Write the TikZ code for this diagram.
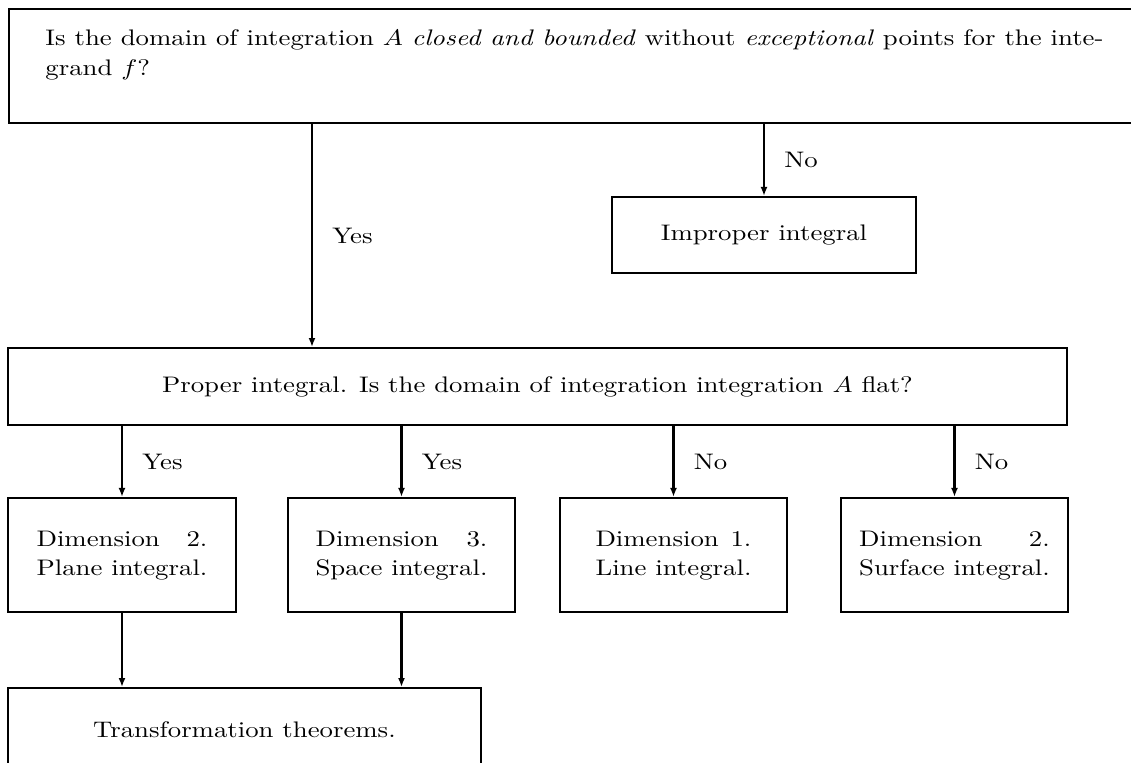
\documentclass[tikz,border=0pt]{standalone}
\usepackage{fontspec}
\setmainfont{lmroman10-regular.otf}[FakeStretch=1.19, ItalicFont=lmroman10-italic.otf, BoldFont=lmroman10-bold.otf]
\usepackage{calc}
\usepackage{graphicx}
\usetikzlibrary{arrows.meta}
\newcommand\stm[1]{\scalebox{1.19}[1]{$#1$}}
\newcommand\dimtext[2]{\begin{tabular}{@{}l@{}}\makebox[\widthof{#2}][s]{#1}\\#2\end{tabular}}
\tikzset{
  txt/.style={font=\fontsize{10}{13.3}\selectfont},
  box/.style={draw, line width=0.9pt, rectangle, inner sep=0pt, txt, align=center},
  arr/.style={line width=0.9pt, -{Latex[length=4pt,width=3.1pt]}},
  lab/.style={txt, anchor=west, inner sep=0pt, xshift=8.6pt},
}
\begin{document}
\begin{tikzpicture}[x=0.4444pt, y=-0.4444pt]
\useasboundingbox (0,0) rectangle (1131,762);
\clip (0,0) rectangle (1131,762);
% top question box
\node[box, anchor=north west, minimum width=533pt, minimum height=50.67pt] (q1) at (8,8) {};
\node[txt, anchor=north west, inner sep=0pt, text width=470.2pt, align=justify] (q1t) at (45,29.4)
  {Is the domain of integration \stm{A} \textit{closed and bounded} without \textit{exceptional} points for the integrand \stm{f}?};
% improper
\node[box, minimum width=134.7pt, minimum height=33.8pt] (imp) at (764,235) {Improper integral};
% proper
\node[box, minimum width=470.6pt, minimum height=34.2pt] (p) at (537.5,386.5)
  {Proper integral. Is the domain of integration integration \stm{A} flat?};
% dimension boxes
\node[box, minimum width=101.3pt, minimum height=50.7pt] (d1) at (122,555) {\dimtext{Dimension 2.}{Plane integral.}};
\node[box, minimum width=101pt, minimum height=50.7pt] (d2) at (401.5,555) {\dimtext{Dimension 3.}{Space integral.}};
\node[box, minimum width=101pt, minimum height=50.7pt] (d3) at (673.5,555) {\dimtext{Dimension 1.}{Line integral.}};
\node[box, minimum width=100.5pt, minimum height=50.7pt] (d4) at (954.5,555) {\dimtext{Dimension 2.}{Surface integral.}};
% transformation
\node[box, minimum width=210.2pt, minimum height=37.3pt] (tt) at (244.5,730) {Transformation theorems.};
% connectors
\coordinate (xyes) at (312,0);
\draw[arr] (q1.south -| xyes) -- node[lab, pos=0.5] {Yes} (p.north -| xyes);
\draw[arr] (imp.north |- q1.south) -- node[lab, pos=0.5] {No} (imp.north);
\draw[arr] (d1.north |- p.south) -- node[lab] {Yes} (d1.north);
\draw[arr] (d2.north |- p.south) -- node[lab] {Yes} (d2.north);
\draw[arr] (d3.north |- p.south) -- node[lab] {No} (d3.north);
\draw[arr] (d4.north |- p.south) -- node[lab] {No} (d4.north);
\draw[arr] (d1.south) -- (d1.south |- tt.north);
\draw[arr] (d2.south) -- (d2.south |- tt.north);
\end{tikzpicture}
\end{document}
